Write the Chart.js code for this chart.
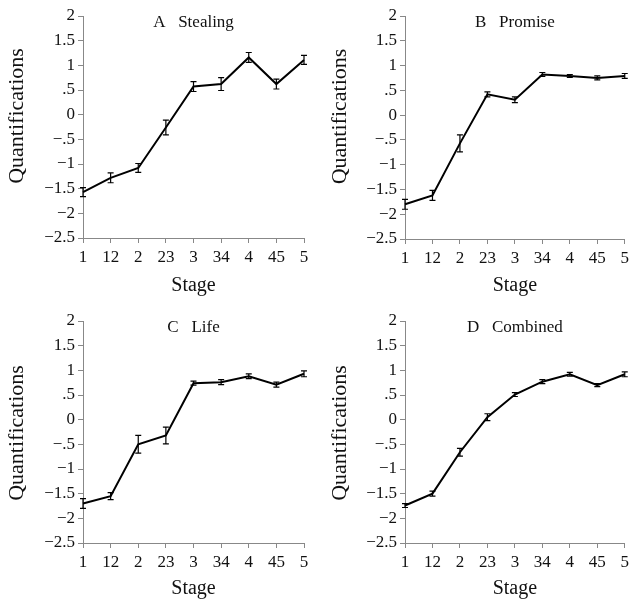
<!DOCTYPE html>
<html><head><meta charset="utf-8">
<script src="https://cdn.jsdelivr.net/npm/chart.js@4/dist/chart.umd.min.js"></script>
<style>
html,body{margin:0;padding:0;background:#fff;}
#wrap{position:relative;width:633px;height:603px;overflow:hidden;background:#fff;}
canvas{position:absolute;}
</style></head><body>
<div id="wrap">
<canvas id="cA" width="316" height="300" style="left:0px;top:0px"></canvas>
<canvas id="cB" width="317" height="300" style="left:316px;top:0px"></canvas>
<canvas id="cC" width="316" height="303" style="left:0px;top:300px"></canvas>
<canvas id="cD" width="317" height="303" style="left:316px;top:300px"></canvas>
</div>
<script>
const stages = ['1','12','2','23','3','34','4','45','5'];
const yTickValues = [2, 1.5, 1, 0.5, 0, -0.5, -1, -1.5, -2, -2.5];
const yTickLabels = ['2', '1.5', '1', '.5', '0', '\u2212.5', '\u22121', '\u22121.5', '\u22122', '\u22122.5'];

const stealing    = [-1.57, -1.28, -1.08, -0.26, 0.57, 0.62, 1.16, 0.62, 1.11];
const stealingErr = [0.09, 0.10, 0.09, 0.15, 0.10, 0.13, 0.10, 0.10, 0.09];
const promise     = [-1.80, -1.62, -0.57, 0.42, 0.31, 0.82, 0.79, 0.75, 0.79];
const promiseErr  = [0.10, 0.10, 0.17, 0.05, 0.06, 0.04, 0.03, 0.04, 0.05];
const life        = [-1.70, -1.55, -0.50, -0.32, 0.74, 0.76, 0.88, 0.71, 0.93];
const lifeErr     = [0.10, 0.07, 0.18, 0.17, 0.04, 0.05, 0.05, 0.05, 0.06];
const combined    = [-1.74, -1.50, -0.66, 0.05, 0.51, 0.77, 0.92, 0.70, 0.92];
const combinedErr = [0.04, 0.05, 0.08, 0.07, 0.04, 0.04, 0.04, 0.03, 0.05];

const panelTitles = ['A   Stealing', 'B   Promise', 'C   Life', 'D   Combined'];
const xTitle = 'Stage';
const yTitle = 'Quantifications';

const FONT = '"Liberation Serif", "Times New Roman", serif';

const panelPlugin = {
  id: 'panel',
  afterDatasetsDraw(chart, args, opts) {
    const ctx = chart.ctx, xs = chart.scales.x, ys = chart.scales.y;
    const data = chart.data.datasets[0].data;
    const errs = opts.errors;
    ctx.save();
    ctx.strokeStyle = '#000';
    ctx.lineWidth = 1.2;
    data.forEach((v, i) => {
      const px = xs.getPixelForValue(i);
      const t = ys.getPixelForValue(v + errs[i]);
      const b = ys.getPixelForValue(v - errs[i]);
      ctx.beginPath();
      ctx.moveTo(px, t); ctx.lineTo(px, b);
      ctx.moveTo(px - 3, t); ctx.lineTo(px + 3, t);
      ctx.moveTo(px - 3, b); ctx.lineTo(px + 3, b);
      ctx.stroke();
    });
    const a = chart.chartArea;
    ctx.fillStyle = '#111';
    ctx.textAlign = 'center';
    ctx.textBaseline = 'middle';
    ctx.font = '17px ' + FONT;
    ctx.fillText(opts.title, (a.left + a.right) / 2, a.top + 7);
    ctx.save();
    ctx.translate(opts.yTitleX, (a.top + a.bottom) / 2 + opts.yTitleShift);
    ctx.rotate(-Math.PI / 2);
    ctx.font = '22px ' + FONT;
    ctx.fillText(yTitle, 0, 0);
    ctx.restore();
    ctx.restore();
  }
};

function makePanel(id, values, errs, title, yAxisW, padTop, padRight, xAxisH, yTitleX, yTitleShift) {
  new Chart(document.getElementById(id), {
    type: 'line',
    data: {
      labels: stages,
      datasets: [{
        data: values,
        borderColor: '#000',
        borderWidth: 2,
        pointRadius: 0,
        tension: 0,
        fill: false
      }]
    },
    options: {
      responsive: false,
      animation: false,
      events: [],
      layout: { padding: { top: padTop, right: padRight, left: 0, bottom: 0 } },
      plugins: {
        legend: { display: false },
        tooltip: { enabled: false },
        panel: { errors: errs, title: title, yTitleX: yTitleX, yTitleShift: yTitleShift }
      },
      scales: {
        x: {
          type: 'category',
          offset: false,
          grid: { display: true, drawOnChartArea: false, drawTicks: true, tickLength: 5, color: '#888' },
          border: { display: true, color: '#888', width: 1 },
          ticks: { color: '#111', font: { family: FONT, size: 17 }, padding: 4, maxRotation: 0, autoSkip: false },
          title: { display: true, text: xTitle, color: '#111', font: { family: FONT, size: 20, lineHeight: 1 }, padding: { top: 0, bottom: 4 } },
          afterFit(s) { s.height = xAxisH; }
        },
        y: {
          min: -2.5, max: 2,
          afterBuildTicks(s) { s.ticks = yTickValues.map(v => ({ value: v })); },
          grid: { display: true, drawOnChartArea: false, drawTicks: true, tickLength: 5, color: '#888' },
          border: { display: true, color: '#888', width: 1 },
          ticks: {
            color: '#111', font: { family: FONT, size: 17 }, padding: 3,
            callback(v) { const i = yTickValues.indexOf(v); return i >= 0 ? yTickLabels[i] : ''; }
          },
          afterFit(s) { s.width = yAxisW; }
        }
      }
    },
    plugins: [panelPlugin]
  });
}

makePanel('cA', stealing, stealingErr, panelTitles[0], 83, 16, 12, 62, 17, -11);
makePanel('cB', promise, promiseErr, panelTitles[1], 89, 16, 7, 61, 24, -11);
makePanel('cC', life, lifeErr, panelTitles[2], 83, 21, 12, 60, 17, 1);
makePanel('cD', combined, combinedErr, panelTitles[3], 89, 21, 7, 60, 24, 1);
</script>
</body></html>
